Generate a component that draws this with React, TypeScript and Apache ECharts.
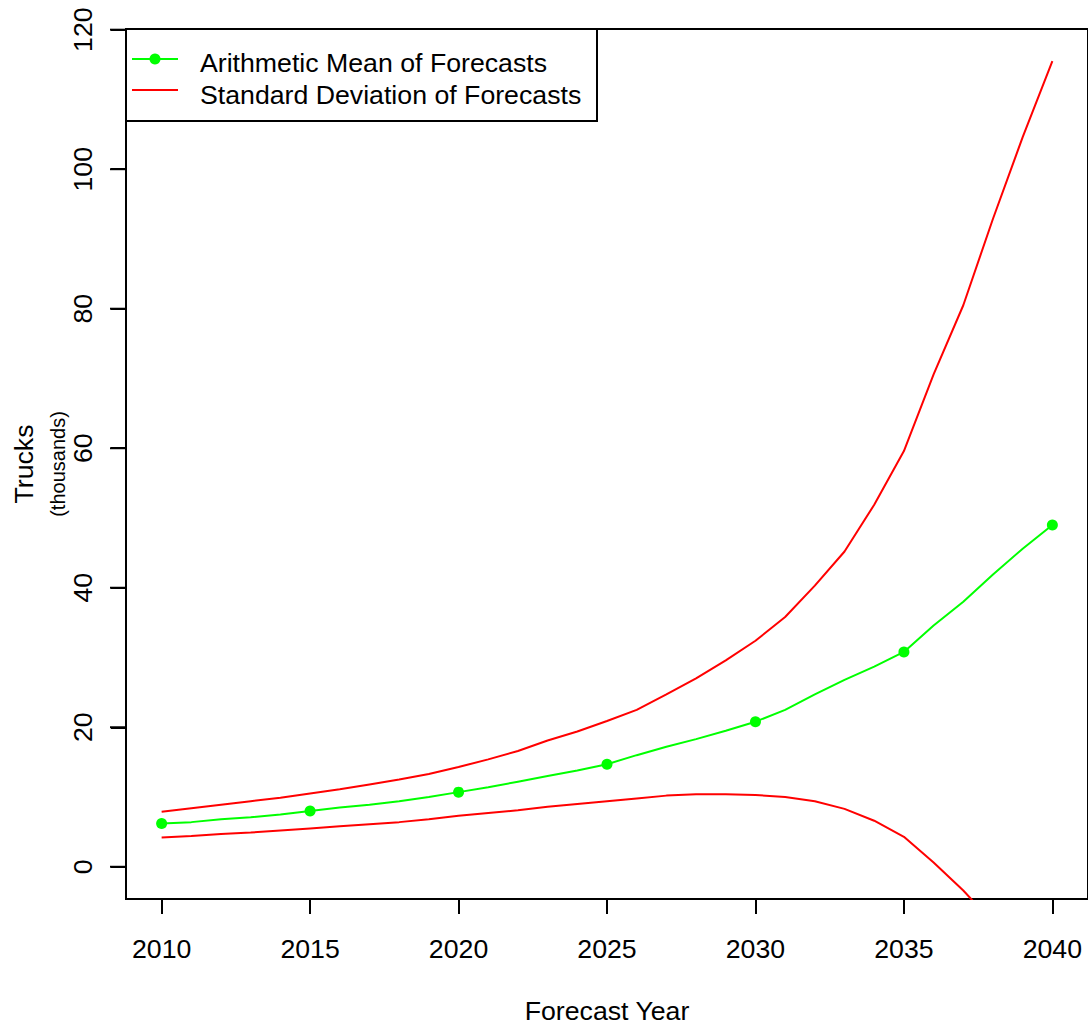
import React, { useEffect, useRef } from "react";
import * as echarts from "echarts";

const years = [2010, 2011, 2012, 2013, 2014, 2015, 2016, 2017, 2018, 2019, 2020, 2021, 2022, 2023, 2024, 2025, 2026, 2027, 2028, 2029, 2030, 2031, 2032, 2033, 2034, 2035, 2036, 2037, 2038, 2039, 2040];
const meanValues = [6.2, 6.4, 6.8, 7.1, 7.5, 8.0, 8.5, 8.9, 9.4, 10.0, 10.7, 11.4, 12.2, 13.0, 13.8, 14.7, 16.0, 17.2, 18.3, 19.5, 20.8, 22.5, 24.7, 26.8, 28.7, 30.8, 34.6, 38.0, 41.9, 45.6, 49.0];
const upperValues = [7.9, 8.4, 8.9, 9.4, 9.9, 10.5, 11.1, 11.8, 12.5, 13.3, 14.3, 15.4, 16.6, 18.1, 19.4, 20.9, 22.5, 24.7, 27.0, 29.6, 32.4, 35.8, 40.3, 45.2, 51.9, 59.6, 70.6, 80.5, 92.9, 104.6, 115.5];
const lowerValues = [4.2, 4.4, 4.7, 4.9, 5.2, 5.5, 5.8, 6.1, 6.4, 6.8, 7.3, 7.7, 8.1, 8.6, 9.0, 9.4, 9.8, 10.2, 10.4, 10.4, 10.3, 10.0, 9.4, 8.3, 6.6, 4.3, 0.6, -3.4, -8.0, -13.0, -17.5];
const xTicks = [2010, 2015, 2020, 2025, 2030, 2035, 2040];
const yTicks = [0, 20, 40, 60, 80, 100, 120];
const legendLabels = ["Arithmetic Mean of Forecasts", "Standard Deviation of Forecasts"];
const xTitle = "Forecast Year";
const yTitle = "Trucks";
const ySubTitle = "(thousands)";

const FONT = "'Liberation Sans', Arial, Helvetica, sans-serif";
const GREEN = "#00ff00";
const RED = "#ff0000";
const X_MIN = 2008.8;
const X_MAX = 2041.2;
const Y_MIN = -4.62;
const Y_MAX = 120.1;
const GRID_LEFT = 126;
const GRID_TOP = 29;
const GRID_BOTTOM = 126;
const H = 1025;

export default function App() {
  const ref = useRef<HTMLDivElement>(null);
  useEffect(() => {
    if (!ref.current) return;
    const chart = echarts.init(ref.current, null, { renderer: "svg" });
    const pairs = (vals: number[]) => years.map((y, i) => [y, vals[i]]);
    const option: any = {
      animation: false,
      backgroundColor: "#fff",
      grid: {
        left: GRID_LEFT,
        top: GRID_TOP,
        right: -2,
        bottom: GRID_BOTTOM,
        show: true,
        borderColor: "#000",
        borderWidth: 2,
        backgroundColor: "transparent",
      },
      xAxis: {
        type: "value",
        min: X_MIN,
        max: X_MAX,
        splitLine: { show: false },
        axisLine: { show: false, onZero: false },
        axisTick: {
          show: true,
          inside: false,
          customValues: xTicks,
          length: 15,
          lineStyle: { color: "#000", width: 2 },
        },
        axisLabel: {
          customValues: xTicks,
          formatter: (v: number) => String(v),
          fontSize: 26.7,
          color: "#000",
          fontFamily: FONT,
          margin: 36,
        },
      },
      yAxis: {
        type: "value",
        position: "left",
        min: Y_MIN,
        max: Y_MAX,
        splitLine: { show: false },
        axisLine: { show: false, onZero: false },
        axisTick: {
          show: true,
          inside: false,
          customValues: yTicks,
          length: 15,
          lineStyle: { color: "#000", width: 2 },
        },
        axisLabel: {
          customValues: yTicks,
          formatter: (v: number) => String(v),
          fontSize: 26.7,
          color: "#000",
          fontFamily: FONT,
          rotate: 90,
          margin: 30,
        },
      },
      series: [
        {
          name: legendLabels[0],
          type: "line",
          data: pairs(meanValues),
          lineStyle: { color: GREEN, width: 2 },
          itemStyle: { color: GREEN },
          symbol: "circle",
          showSymbol: true,
          showAllSymbol: true,
          symbolSize: (_v: any, p: any) => (p.dataIndex % 5 === 0 ? 11 : 0),
          z: 3,
        },
        {
          name: legendLabels[1],
          type: "line",
          data: pairs(upperValues),
          lineStyle: { color: RED, width: 2 },
          itemStyle: { color: RED },
          showSymbol: false,
          z: 2,
        },
        {
          name: legendLabels[1] + " (lower)",
          type: "line",
          data: pairs(lowerValues),
          lineStyle: { color: RED, width: 2 },
          itemStyle: { color: RED },
          showSymbol: false,
          clip: true,
          z: 2,
        },
      ],
      graphic: [
        {
          id: "legendBox",
          type: "rect",
          shape: { x: 126, y: 29, width: 471, height: 92 },
          style: { fill: "#fff", stroke: "#000", lineWidth: 2 },
          z: 10,
        },
        {
          id: "legendGreen",
          type: "line",
          shape: { x1: 132, y1: 59, x2: 178, y2: 59 },
          style: { stroke: GREEN, lineWidth: 2 },
          z: 11,
        },
        {
          id: "legendDot",
          type: "circle",
          shape: { cx: 155, cy: 59, r: 5.5 },
          style: { fill: GREEN },
          z: 11,
        },
        {
          id: "legendRed",
          type: "line",
          shape: { x1: 132, y1: 90, x2: 178, y2: 90 },
          style: { stroke: RED, lineWidth: 2 },
          z: 11,
        },
        {
          id: "legendText0",
          type: "text",
          x: 200,
          y: 63,
          style: {
            text: legendLabels[0],
            fontSize: 26.7,
            fontFamily: FONT,
            fill: "#000",
            textAlign: "left",
            textVerticalAlign: "middle",
          },
          z: 11,
        },
        {
          id: "legendText1",
          type: "text",
          x: 200,
          y: 95,
          style: {
            text: legendLabels[1],
            fontSize: 26.7,
            fontFamily: FONT,
            fill: "#000",
            textAlign: "left",
            textVerticalAlign: "middle",
          },
          z: 11,
        },
        {
          id: "xTitle",
          type: "text",
          x: 607,
          y: 1010.5,
          style: {
            text: xTitle,
            fontSize: 26.7,
            fontFamily: FONT,
            fill: "#000",
            textAlign: "center",
            textVerticalAlign: "middle",
          },
        },
        {
          id: "yTitle",
          type: "text",
          x: 24,
          y: 464,
          rotation: Math.PI / 2,
          style: {
            text: yTitle,
            fontSize: 26.7,
            fontFamily: FONT,
            fill: "#000",
            textAlign: "center",
            textVerticalAlign: "middle",
          },
        },
        {
          id: "ySubTitle",
          type: "text",
          x: 58,
          y: 464,
          rotation: Math.PI / 2,
          style: {
            text: ySubTitle,
            fontSize: 20,
            fontFamily: FONT,
            fill: "#000",
            textAlign: "center",
            textVerticalAlign: "middle",
          },
        },
      ],
    };
    chart.setOption(option);
    const plotH = H - GRID_TOP - GRID_BOTTOM;
    const tickEls = yTicks.map((v, i) => {
      let px = GRID_LEFT;
      let py = GRID_TOP + ((Y_MAX - v) / (Y_MAX - Y_MIN)) * plotH;
      const p = chart.convertToPixel({ gridIndex: 0 }, [X_MIN, v]) as any;
      if (Array.isArray(p) && isFinite(p[0]) && isFinite(p[1])) {
        px = p[0];
        py = p[1];
      }
      return {
        id: "ytick" + i,
        type: "polyline",
        shape: { points: [[px - 16, py], [px, py]] },
        style: { stroke: "#000", lineWidth: 2, fill: null },
        zlevel: 3,
        z: 50,
      };
    });
    chart.setOption({ graphic: tickEls });
    return () => chart.dispose();
  }, []);
  return (
    <div
      ref={ref}
      style={{ position: "fixed", left: 0, top: 0, width: 1088, height: 1025, background: "#fff" }}
    />
  );
}
